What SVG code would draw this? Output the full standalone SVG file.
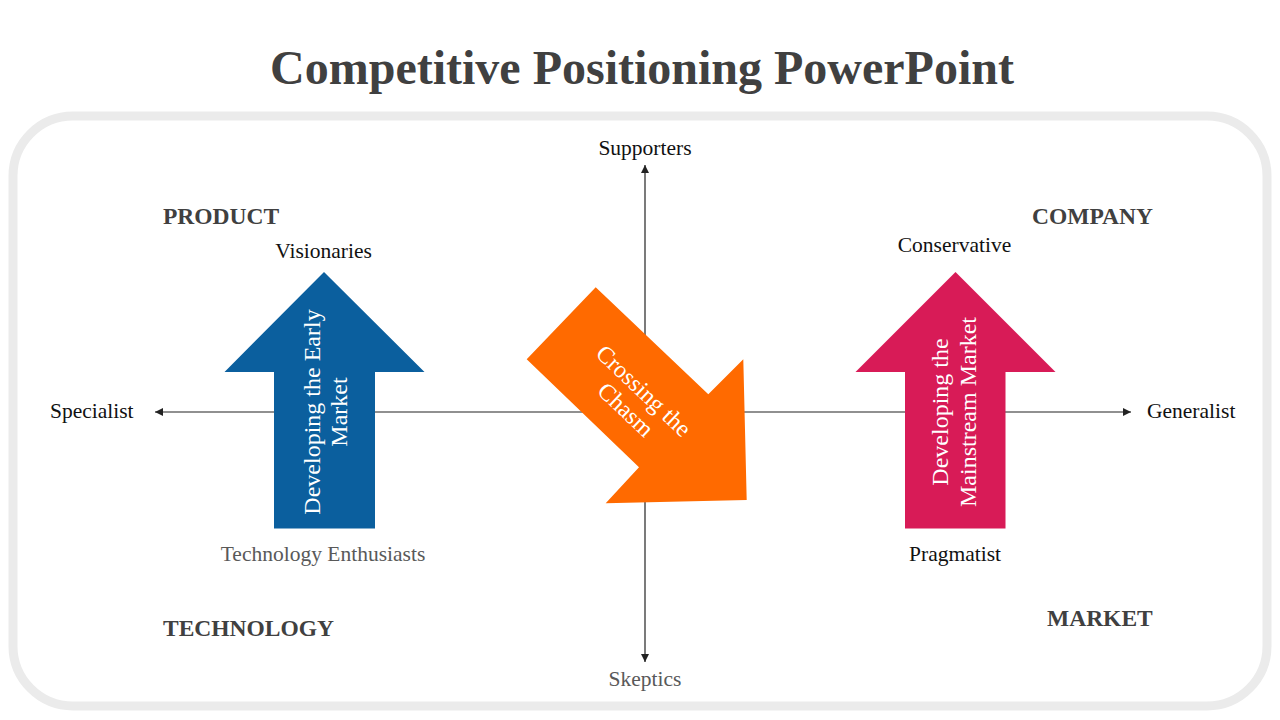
<svg xmlns="http://www.w3.org/2000/svg" width="1280" height="720" viewBox="0 0 1280 720">
  <defs>
    <marker id="ah" viewBox="0 0 10 10" refX="10" refY="5" markerWidth="10" markerHeight="8" markerUnits="userSpaceOnUse" orient="auto">
      <path d="M0,0 L10,5 L0,10 Z" fill="#222"/>
    </marker>
    <style>
      .t { font-family: "Liberation Serif", "Times New Roman", serif; }
      .lbl { font-size: 21.5px; fill: #111; }
      .gray { fill: #595959; }
      .hd { font-size: 23.5px; font-weight: bold; fill: #404040; }
      .in { font-size: 24px; fill: #ffffff; text-anchor: middle; }
      .axis { stroke: #222; stroke-width: 1.2; fill: none; }
    </style>
  </defs>
  <rect width="1280" height="720" fill="#ffffff"/>
  <rect x="13" y="116" width="1254" height="590" rx="60" ry="60" fill="#ffffff" stroke="#ebebeb" stroke-width="9"/>

  <text class="t" x="642" y="84" text-anchor="middle" font-size="48" font-weight="bold" fill="#404040">Competitive Positioning PowerPoint</text>

  <g id="connectors">
    <line class="axis" x1="645" y1="412" x2="155" y2="412" marker-end="url(#ah)"/>
    <line class="axis" x1="645" y1="412" x2="1131" y2="412" marker-end="url(#ah)"/>
    <line class="axis" x1="645" y1="412" x2="645" y2="165" marker-end="url(#ah)"/>
    <line class="axis" x1="645" y1="412" x2="645" y2="662" marker-end="url(#ah)"/>
  </g>

  <g id="axis-labels" class="t lbl">
    <text x="645" y="155" text-anchor="middle">Supporters</text>
    <text x="645" y="686" text-anchor="middle" class="gray">Skeptics</text>
    <text x="50" y="418">Specialist</text>
    <text x="1147" y="418">Generalist</text>
  </g>

  <g id="quadrant-labels" class="t hd">
    <text x="163" y="224">PRODUCT</text>
    <text x="1032" y="224">COMPANY</text>
    <text x="163" y="636">TECHNOLOGY</text>
    <text x="1047" y="626">MARKET</text>
  </g>

  <g id="early-market">
    <polygon points="324,272 424.5,372 375,372 375,528.5 274,528.5 274,372 224.5,372" fill="#0b5f9e"/>
    <g transform="translate(324,412) rotate(-90)" class="t in">
      <text x="0" y="-4">Developing the Early</text>
      <text x="0" y="22.5">Market</text>
    </g>
    <text class="t lbl" x="323.5" y="258" text-anchor="middle">Visionaries</text>
    <text class="t lbl gray" x="323" y="561" text-anchor="middle">Technology Enthusiasts</text>
  </g>

  <g id="chasm">
    <polygon points="595.7,287.3 708.3,394.3 743.3,359.3 746.7,500 605.7,503.3 639,467.3 526.7,359.3" fill="#ff6a00"/>
    <g transform="translate(634.7,400.2) rotate(43.5)" class="t in">
      <text x="0" y="-5">Crossing the</text>
      <text x="0" y="21">Chasm</text>
    </g>
  </g>

  <g id="mainstream-market">
    <polygon points="955.5,272 1055.5,372 1005.5,372 1005.5,528.5 905,528.5 905,372 855.5,372" fill="#d81b57"/>
    <g transform="translate(955.5,412) rotate(-90)" class="t in">
      <text x="0" y="-7.5">Developing the</text>
      <text x="0" y="20.5">Mainstream Market</text>
    </g>
    <text class="t lbl" x="954.5" y="252" text-anchor="middle">Conservative</text>
    <text class="t lbl" x="955" y="561" text-anchor="middle">Pragmatist</text>
  </g>
</svg>
